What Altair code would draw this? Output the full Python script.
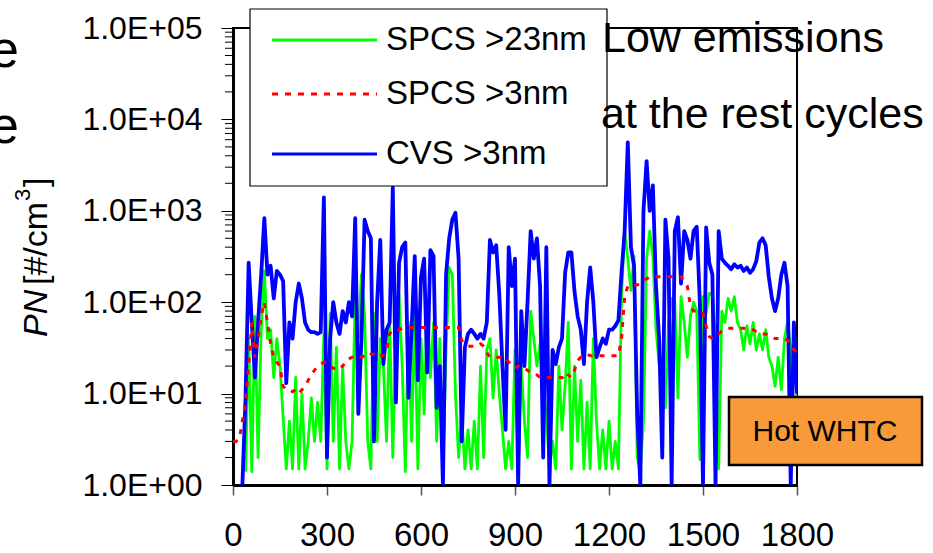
import altair as alt
import pandas as pd

# ---------------- data ----------------
TIME_S = [
    0, 10, 20, 30, 40, 50, 60, 70, 80, 90, 100, 110, 120, 130, 140, 150, 160, 170, 180, 190,
    200, 210, 220, 230, 240, 250, 260, 270, 280, 290, 300, 310, 320, 330, 340, 350, 360, 370, 380, 390,
    400, 410, 420, 430, 440, 450, 460, 470, 480, 490, 500, 510, 520, 530, 540, 550, 560, 570, 580, 590,
    600, 610, 620, 630, 640, 650, 660, 670, 680, 690, 700, 710, 720, 730, 740, 750, 760, 770, 780, 790,
    800, 810, 820, 830, 840, 850, 860, 870, 880, 890, 900, 910, 920, 930, 940, 950, 960, 970, 980, 990,
    1000, 1010, 1020, 1030, 1040, 1050, 1060, 1070, 1080, 1090, 1100, 1110, 1120, 1130, 1140, 1150, 1160, 1170, 1180, 1190,
    1200, 1210, 1220, 1230, 1240, 1250, 1260, 1270, 1280, 1290, 1300, 1310, 1320, 1330, 1340, 1350, 1360, 1370, 1380, 1390,
    1400, 1410, 1420, 1430, 1440, 1450, 1460, 1470, 1480, 1490, 1500, 1510, 1520, 1530, 1540, 1550, 1560, 1570, 1580, 1590,
    1600, 1610, 1620, 1630, 1640, 1650, 1660, 1670, 1680, 1690, 1700, 1710, 1720, 1730, 1740, 1750, 1760, 1770, 1780, 1790,
    1800,
]

CVS_3NM = [
    None, None, None, 1, 9, 270, 60, 15, 60, 200, 830, 200, 250, 110, 220, 200, 170, 13, 60, 40,
    100, 160, 110, 60, 50, 47, 47, 45, 47, 1400, 2, 40, 100, 60, 45, 80, 60, 100, 70, 830,
    6, 40, 800, 600, 500, 3, 100, 480, 21, 50, 60, 1800, 8, 270, 400, 450, 9, 50, 320, 14,
    190, 300, 17, 370, 320, 7, 20, 1, 200, 500, 800, 950, 300, 3, 32, 45, 50, 45, 40, 45,
    40, 60, 480, 350, 420, 120, 20, 4, 400, 150, 300, 1, 80, 20, 100, 600, 300, 500, 150, 2,
    400, 1, 30, 21, 32, 40, 210, 350, 350, 130, 70, 50, 21, 100, 240, 100, 25, 32, 40, 35,
    50, 50, 55, 63, 210, 600, 5600, 400, 250, 6, 1, 1000, 3500, 1000, 1900, 150, 40, 2, 800, 300,
    1, 600, 850, 160, 600, 480, 300, 600, 670, 100, 1, 660, 270, 200, 1, 600, 300, 270, 250, 230,
    260, 240, 250, 220, 240, 210, 230, 280, 450, 500, 420, 190, 110, 80, 110, 200, 270, 150, 1, 60,
    10,
]

SPCS_23NM = [
    None, None, None, None, 1.4, 40, 1.4, 70, 2, 50, 220, 40, 50, 15, 40, 20, 5.5, 1.5, 5, 1.5,
    15, 1.5, 10, 1.5, 3, 9, 3, 8, 3, 45, 1.5, 75, 3, 32, 1.5, 20, 3, 1.5, 3, 125,
    40, 200, 70, 3, 1.5, 75, 3, 40, 20, 3, 60, 2, 50, 120, 20, 1.4, 60, 3, 80, 1.5,
    40, 6, 100, 15, 60, 3, 40, 1.5, 30, 240, 200, 10, 2, 6, 1.5, 4, 1.5, 5, 1.5, 20,
    2, 30, 40, 9, 30, 10, 4, 1.5, 3, 1.5, 30, 1.5, 20, 5, 2, 80, 40, 20, 35, 11,
    6, 1.5, 3, 1.5, 20, 4, 12, 60, 1.5, 20, 3, 14, 1.5, 8, 1.5, 40, 5, 1.5, 4, 1.5,
    5, 1.5, 3, 1.5, 115, 600, 300, 135, 320, 2, 1.5, 5, 300, 600, 320, 50, 21, 25, 7, 60,
    110, 100, 9, 115, 60, 25, 70, 100, 80, 1.9, 115, 75, 125, 120, 40, 1.5, 80, 60, 110, 80,
    115, 60, 50, 30, 55, 35, 60, 30, 45, 30, 50, 25, 20, 12, 25, 11, 40, 60, 30, 5,
    10,
]

SPCS_3NM = [
    3, 3, 3.2, 5, 8, 20, 60, 25, 40, 70, 100, 60, 35, 25, 22, 20, 12, 11, 11, 10.5,
    11, 10, 11, 12, 14, 16, 18, 20, 21, 22, 20, 20, 19, 18, 19, 20, 23, 24, 25, 25,
    26, 25, 26, 25, 27, 27, 25, 26, 26, 30, 45, 50, 50, 50, 52, 53, 53, 53, 53, 53,
    53, 53, 53, 53, 53, 53, 53, 53, 53, 53, 53, 53, 53, 38, 35, 33, 33, 33, 33, 35,
    33, 28, 25, 25, 25, 25, 25, 25, 22, 20, 19, 20, 19, 19, 18, 17, 16, 16, 15, 15,
    15, 15, 15, 15, 15, 15, 14, 16, 15, 18, 23, 25, 26, 27, 26, 26, 26, 26, 26, 26,
    26, 26, 26, 26, 40, 115, 150, 150, 150, 155, 160, 175, 180, 190, 190, 190, 190, 190, 190, 190,
    190, 190, 190, 190, 170, 150, 90, 80, 80, 75, 75, 55, 42, 40, 42, 45, 48, 50, 52, 52,
    52, 52, 52, 52, 50, 50, 50, 48, 48, 45, 45, 44, 42, 40, 40, 40, 40, 38, 35, 30,
    28,
]

SERIES_NAMES = ["SPCS >23nm", "SPCS >3nm", "CVS >3nm"]
SERIES_COLORS = ["#00FF00", "#FF0000", "#0000FF"]

X_TICKS = [0, 300, 600, 900, 1200, 1500, 1800]
Y_TICKS = [1, 10, 100, 1000, 10000, 100000]
Y_MINOR = [m * d for d in [1, 10, 100, 1000, 10000] for m in range(2, 10)]

FONT = "Liberation Sans"


def series_df(values, name):
    df = pd.DataFrame({"time": TIME_S, "value": values})
    df["series"] = name
    return df.dropna()


green_df = series_df(SPCS_23NM, SERIES_NAMES[0])
red_df = series_df(SPCS_3NM, SERIES_NAMES[1])
blue_df = series_df(CVS_3NM, SERIES_NAMES[2])

x_enc = alt.X(
    "time:Q",
    scale=alt.Scale(domain=[0, 1800], nice=False),
    axis=alt.Axis(
        values=X_TICKS, title=None, grid=False, format="d",
        labelOverlap=False, labelFlush=False,
        labelFont=FONT, labelFontSize=33, labelColor="black",
        labelPadding=24, tickSize=10, tickColor="#555555", tickWidth=1.5,
        domainColor="black", domainWidth=3,
    ),
)
y_scale = alt.Scale(type="log", domain=[1, 100000], nice=False)
y_enc = alt.Y(
    "value:Q",
    scale=y_scale,
    axis=alt.Axis(
        values=Y_TICKS, title=None, grid=False,
        labelOverlap=False, labelFlush=False,
        labelExpr="'1.0E+0' + round(log(datum.value) / LN10)",
        labelFont=FONT, labelFontSize=32, labelColor="black",
        labelPadding=19, tickSize=12, tickColor="black", tickWidth=1,
        domainColor="black", domainWidth=3,
    ),
)

green = alt.Chart(green_df).mark_line(
    color=SERIES_COLORS[0], strokeWidth=2.8, clip=True, strokeJoin="round"
).encode(x=x_enc, y=y_enc)

blue = alt.Chart(blue_df).mark_line(
    color=SERIES_COLORS[2], strokeWidth=3.8, clip=True, strokeJoin="round"
).encode(x=x_enc, y=y_enc)

red = alt.Chart(red_df).mark_line(
    color=SERIES_COLORS[1], strokeWidth=3, clip=True, strokeDash=[5, 7]
).encode(x=x_enc, y=y_enc)

# minor log ticks on the y axis (same scale and axis definition as the data)
minor = alt.Chart(pd.DataFrame({"value": Y_MINOR})).mark_rule(
    color="black", strokeWidth=1
).encode(
    y=y_enc,
    x=alt.value(-8), x2=alt.value(0),
)

one = pd.DataFrame({"k": [0]})


def text(s, x, y, size, font=FONT, align="left", baseline="alphabetic", angle=0, style="normal"):
    kw = dict(text=s, font=font, fontSize=size, align=align, baseline=baseline,
              color="black", fontStyle=style)
    if angle:
        kw["angle"] = angle
    return alt.Chart(one).mark_text(**kw).encode(x=alt.value(x), y=alt.value(y))


# legend box
legend_box = alt.Chart(one).mark_rect(
    fill="white", stroke="black", strokeWidth=1.2
).encode(x=alt.value(17), x2=alt.value(374), y=alt.value(-19), y2=alt.value(158))

legend_layers = [legend_box]
row_y = [12, 66, 126]
for name, col, yy in zip(SERIES_NAMES, SERIES_COLORS, row_y):
    kw = dict(color=col, strokeWidth=3)
    if name == "SPCS >3nm":
        kw["strokeDash"] = [6, 7]
    legend_layers.append(
        alt.Chart(one).mark_rule(**kw).encode(
            x=alt.value(39), x2=alt.value(144), y=alt.value(yy)
        )
    )
    legend_layers.append(text(name, 153, yy, 33, baseline="middle"))

# orange "Hot WHTC" box
hot_box = alt.Chart(one).mark_rect(
    fill="#F89A3A", stroke="black", strokeWidth=2.5
).encode(x=alt.value(496), x2=alt.value(689), y=alt.value(369), y2=alt.value(437))

annotations = [
    text("Low emissions", 369, 24, 43),
    text("at the rest cycles", 368, 100, 43),
    text("e", -214, 39, 52, align="right"),
    text("e", -214, 115, 52, align="right"),
    hot_box,
    text("Hot WHTC", 592, 404, 30, align="center", baseline="middle"),
    # rotated y-axis title: PN [#/cm^3]
    text("PN", -186, 309, 34, angle=270, style="italic"),
    text("[#/cm", -186, 257, 34, angle=270),
    text("3", -203, 173, 22, angle=270),
    text("]", -186, 159, 34, angle=270),
]

chart = alt.layer(
    green, blue, red, minor, *legend_layers, *annotations
).properties(
    width=564,
    height=457,
    padding={"left": 233, "top": 28, "right": 136, "bottom": 68},
    autosize=alt.AutoSizeParams(type="none"),
    background="white",
).configure_view(
    stroke="black", strokeWidth=2
)

chart.save("out.html", embed_options={"renderer": "svg", "actions": False})
